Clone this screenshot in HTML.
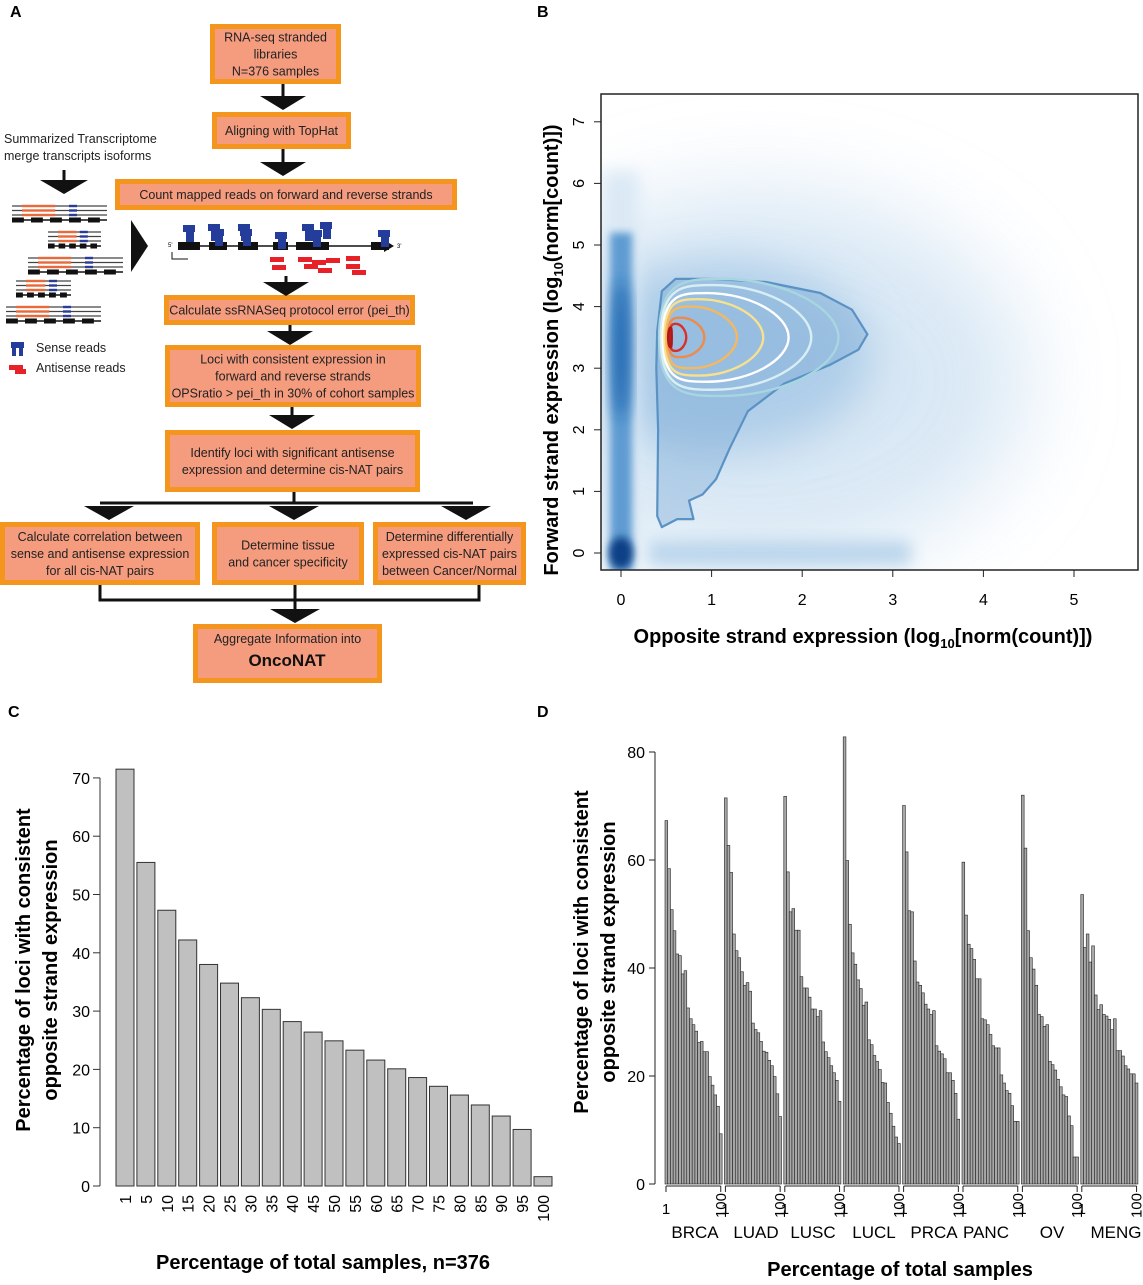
<!DOCTYPE html>
<html><head><meta charset="utf-8"><style>
html,body{margin:0;padding:0;background:#fff}
svg text{font-family:"Liberation Sans",sans-serif}
</style></head><body>
<svg id="fig" xmlns="http://www.w3.org/2000/svg" width="1143" height="1280" viewBox="0 0 1143 1280">
<defs>
<filter id="blur4" x="-50%" y="-50%" width="200%" height="200%"><feGaussianBlur stdDeviation="4"/></filter>
<filter id="blur8" x="-50%" y="-50%" width="200%" height="200%"><feGaussianBlur stdDeviation="8"/></filter>
<filter id="blur20" x="-50%" y="-50%" width="200%" height="200%"><feGaussianBlur stdDeviation="22"/></filter>
<filter id="blur40" x="-50%" y="-50%" width="200%" height="200%"><feGaussianBlur stdDeviation="45"/></filter>
<clipPath id="clipB"><rect x="601" y="94" width="537" height="476"/></clipPath>
</defs>
<g id="panelA"></g>
<g id="panelB"></g>
<g id="panelC"></g>
<g id="panelD"></g>
</svg>
<script>
// ---------- Panel C data ----------
const cCategories = ["1","5","10","15","20","25","30","35","40","45","50","55","60","65","70","75","80","85","90","95","100"];
const cValues = [71.5,55.5,47.3,42.2,38.0,34.8,32.3,30.3,28.2,26.4,24.9,23.3,21.6,20.1,18.6,17.1,15.6,13.9,12.0,9.7,1.6];
const cYTicks = [0,10,20,30,40,50,60,70];
// ---------- Panel D data ----------
const dGroups = ["BRCA","LUAD","LUSC","LUCL","PRCA","PANC","OV","MENG"];
const dBRCA = [67.3,58.4,50.8,46.9,42.6,42.3,38.9,39.5,32.6,30.6,29.5,28.3,26.2,26.4,24.5,24.5,19.9,18.3,16.5,14.4,9.3];
const dLUAD = [71.5,62.7,57.7,46.3,43.2,41.9,39.3,36.8,37.3,35.7,29.8,28.6,28.0,26.4,24.6,24.4,22.9,21.9,19.9,16.7,12.5];
const dLUSC = [71.8,57.8,50.4,51.0,47.0,47.0,38.4,36.3,36.3,34.6,32.4,32.4,31.0,32.1,26.3,24.5,23.4,21.9,20.6,19.2,15.3];
const dLUCL = [82.8,59.9,48.1,42.8,40.7,37.8,36.2,33.1,33.7,26.7,25.8,23.8,22.7,21.2,18.8,18.7,15.1,13.1,10.7,8.7,7.5];
const dPRCA = [70.1,61.5,50.6,50.4,41.3,37.4,36.8,35.4,33.3,32.4,31.4,32.1,25.6,24.6,24.1,23.2,20.6,20.6,19.2,16.8,12.0];
const dPANC = [59.6,49.8,44.4,43.6,41.6,38.0,38.0,30.6,30.4,29.5,27.7,25.6,25.2,25.2,20.2,18.7,17.3,16.8,14.5,11.6,11.6];
const dOV   = [72.0,62.2,46.9,41.9,39.8,36.8,31.4,31.0,29.2,29.5,22.7,22.1,21.1,19.4,18.0,16.5,16.2,12.6,10.8,5.0,5.0];
const dMENG = [53.6,43.8,46.3,41.1,44.1,35.0,32.3,33.2,31.4,31.1,30.5,28.6,30.6,24.7,24.7,23.7,21.9,21.3,20.4,20.4,18.7];
const dYTicks = [0,20,40,60,80];
// ---------- Panel B ----------
const bXTicks = [0,1,2,3,4,5];
const bYTicks = [0,1,2,3,4,5,6,7];
const bOuterX = [0.40,0.45,0.60,1.00,1.60,2.20,2.55,2.72,2.62,2.30,1.80,1.40,1.20,1.05,0.90,0.75,0.80,0.62,0.45,0.40,0.41,0.39];
const bOuterY = [3.60,4.25,4.45,4.45,4.40,4.22,3.95,3.55,3.30,3.05,2.75,2.30,1.70,1.20,0.95,0.85,0.55,0.55,0.42,0.60,2.00,3.00];
const bInnerRight = [2.40,2.10,1.85,1.57,1.28,0.92,0.72,0.52];
const bInnerHalf  = [0.95,0.85,0.72,0.62,0.50,0.32,0.22,0.16];
const bInnerColor = ["#a7d6e0","#d8eef3","#ffffff","#f7e08e","#f4b860","#ee8a4a","#d9302a","#b01818"];

const NS="http://www.w3.org/2000/svg";
function mk(parent,tag,attrs,text){const e=document.createElementNS(NS,tag);for(const k in attrs)e.setAttribute(k,attrs[k]);if(text!==undefined)e.textContent=text;parent.appendChild(e);return e;}

// ================= Panel A =================
(function(){
const g=document.getElementById('panelA');
const t=mk(g,'text',{x:10,y:17,'font-size':16,'font-weight':'bold'},'A');


const boxes=[
 [210,24,131,60,["RNA-seq stranded","libraries","N=376 samples"],'box-rnaseq'],
 [212,112,139,37,["Aligning with TopHat"],'box-align'],
 [115,179,342,31,["Count mapped reads on forward and reverse strands"],'box-count'],
 [164,295,251,30,["Calculate ssRNASeq protocol error (pei_th)"],'box-error'],
 [165,345,256,62,["Loci with consistent expression in","forward and reverse strands","OPSratio > pei_th in 30% of cohort samples"],'box-loci'],
 [165,430,255,62,["Identify loci with significant antisense","expression and determine cis-NAT pairs"],'box-identify'],
 [0,522,200,63,["Calculate correlation between","sense and antisense expression","for all cis-NAT pairs"],'box-correlation'],
 [212,522,152,63,["Determine tissue","and cancer specificity"],'box-specificity'],
 [373,522,153,63,["Determine differentially","expressed cis-NAT pairs","between Cancer/Normal"],'box-differential'],
 [193,624,189,59,["Aggregate Information into"],'box-aggregate']];
boxes.forEach(b=>{
 const r=mk(g,'rect',{x:b[0]+2.5,y:b[1]+2.5,width:b[2]-5,height:b[3]-5,fill:'#f59b7e',stroke:'#f4961e','stroke-width':5});
 
 
 const n=b[4].length, lh=17, cx=b[0]+b[2]/2;
 let y0=b[1]+b[3]/2-(n-1)*lh/2+4.5;
 if(b[5]==='box-aggregate') y0=b[1]+19;
 b[4].forEach((s,i)=>{const tt=mk(g,'text',{x:cx,y:y0+i*lh,'font-size':12.5,'text-anchor':'middle',fill:'#222'},s);
  
  });
});
const on=mk(g,'text',{x:287,y:666,'font-size':17,'font-weight':'bold','text-anchor':'middle',fill:'#111'},'OncoNAT');


function arrow(cx,y1,y2,w){mk(g,'line',{x1:cx,y1:y1,x2:cx,y2:y2-12,stroke:'#111','stroke-width':3});
 const p=mk(g,'polygon',{points:`${cx-w/2},${y2-14} ${cx+w/2},${y2-14} ${cx},${y2}`,fill:'#111'});
 
 }
arrow(283,84,110,46);arrow(283,149,176,46);arrow(286,276,296,46);arrow(290,325,345,46);arrow(292,407,429,46);
arrow(64,170,194,48);
mk(g,'polygon',{points:'131,220 148,246 131,272',fill:'#111'});
mk(g,'line',{x1:294,y1:492,x2:294,y2:503,stroke:'#111','stroke-width':3});
mk(g,'line',{x1:100,y1:503,x2:473,y2:503,stroke:'#111','stroke-width':3});
[[109,520],[294,520],[466,520]].forEach(a=>mk(g,'polygon',{points:`${a[0]-25},${a[1]-14} ${a[0]+25},${a[1]-14} ${a[0]},${a[1]}`,fill:'#111'}));
mk(g,'polyline',{points:'100,585 100,600 479,600 479,585',fill:'none',stroke:'#111','stroke-width':3});
mk(g,'line',{x1:295,y1:585,x2:295,y2:612,stroke:'#111','stroke-width':3});
mk(g,'polygon',{points:'270,609 320,609 295,623',fill:'#111'});
[["Summarized Transcriptome",143],["merge transcripts isoforms",160]].forEach(s=>{const tt=mk(g,'text',{x:4,y:s[1],'font-size':12.5,fill:'#222'},s[0]);
 
 });
const tr=[[12,95,220],[48,53,246],[28,95,272],[16,55,295],[6,95,321]];
tr.forEach(r=>{const x=r[0],w=r[1],y=r[2];
 for(let k=0;k<3;k++){mk(g,'line',{x1:x,y1:y-14+k*4.5,x2:x+w,y2:y-14+k*4.5,stroke:'#444','stroke-width':1.2});
  mk(g,'rect',{x:x+10,y:y-15.2+k*4.5,width:w*0.35,height:2.4,fill:'#e86a3c'});
  mk(g,'rect',{x:x+w*0.6,y:y-15.2+k*4.5,width:8,height:2.4,fill:'#2a3c9a'});}
 mk(g,'line',{x1:x,y1:y,x2:x+w,y2:y,stroke:'#111','stroke-width':1.5});
 for(let k=0;k<5;k++)mk(g,'rect',{x:x+k*w/5,y:y-2.5,width:w/8,height:5,fill:'#111'});
});
mk(g,'line',{x1:178,y1:246,x2:388,y2:246,stroke:'#111','stroke-width':1.5});
mk(g,'polygon',{points:'384,240 394,246 384,252',fill:'#111'});
[[178,22],[209,18],[238,20],[273,15],[296,33],[371,18]].forEach(e=>mk(g,'rect',{x:e[0],y:242,width:e[1],height:8,fill:'#111'}));
[[183,225],[208,224],[212,229],[238,224],[240,229],[275,232],[302,224],[310,230],[320,222],[378,230]].forEach(b=>{mk(g,'rect',{x:b[0],y:b[1],width:12,height:7,fill:'#243d9a'});mk(g,'rect',{x:b[0]+3,y:b[1]+7,width:8,height:10,fill:'#243d9a'});});
[[270,257],[272,265],[298,257],[304,264],[312,260],[318,268],[326,258],[346,256],[346,264],[352,270]].forEach(b=>mk(g,'rect',{x:b[0],y:b[1],width:14,height:5,fill:'#e82028'}));
mk(g,'polyline',{points:'172,252 172,259 188,259',fill:'none',stroke:'#111','stroke-width':1});
mk(g,'text',{x:168,y:247,'font-size':6},"5'");mk(g,'text',{x:397,y:248,'font-size':6},"3'");
mk(g,'rect',{x:11,y:342,width:13,height:6,fill:'#243d9a'});mk(g,'rect',{x:12,y:347,width:4,height:9,fill:'#243d9a'});mk(g,'rect',{x:19,y:347,width:4,height:9,fill:'#243d9a'});
mk(g,'rect',{x:9,y:365,width:14,height:5,fill:'#e82028'});mk(g,'rect',{x:15,y:369,width:11,height:5,fill:'#e82028'});
[["Sense reads",352],["Antisense reads",372]].forEach(s=>{const tt=mk(g,'text',{x:36,y:s[1],'font-size':12.5,fill:'#222'},s[0]);
 
 });
})();

// ================= Panel B =================
(function(){
const g=document.getElementById('panelB');
const x0=621,xs=90.6,y0=553,ys=61.6;
const X=v=>x0+v*xs, Y=v=>y0-v*ys;
mk(g,'text',{x:537,y:17,'font-size':16,'font-weight':'bold'},'B');
const c=mk(g,'g',{'clip-path':'url(#clipB)'});
mk(c,'rect',{x:601,y:94,width:537,height:476,fill:'#fff'});
mk(c,'ellipse',{cx:X(1.5),cy:Y(2.8),rx:270,ry:190,fill:'#cfe2f2',opacity:0.8,filter:'url(#blur40)'});
mk(c,'ellipse',{cx:X(1.1),cy:Y(3.2),rx:150,ry:95,fill:'#9dc3e4',opacity:0.7,filter:'url(#blur20)'});
mk(c,'rect',{x:X(0.3),y:Y(0.2),width:X(3.2)-X(0.3),height:25,fill:'#bcd6ec',filter:'url(#blur8)'});
mk(c,'rect',{x:X(-0.2),y:Y(6.2),width:36,height:Y(-0.3)-Y(6.2),fill:'#dbe9f5',filter:'url(#blur8)'});
mk(c,'rect',{x:X(-0.12),y:Y(5.2),width:22,height:Y(-0.3)-Y(5.2),fill:'#5e9bd2',filter:'url(#blur4)'});
mk(c,'ellipse',{cx:X(0),cy:Y(3.3),rx:8,ry:70,fill:'#1f65ae',filter:'url(#blur8)'});
mk(c,'ellipse',{cx:X(0),cy:Y(0),rx:12,ry:16,fill:'#0b3f86',filter:'url(#blur4)'});
// outer contour
let d='';
for(let k=0;k<bOuterX.length;k++) d+=(k?'L':'M')+X(bOuterX[k]).toFixed(1)+','+Y(bOuterY[k]).toFixed(1);
const po=mk(c,'path',{d:d+'Z',fill:'rgba(110,160,210,0.35)',stroke:'#5a92c4','stroke-width':2.2,'stroke-linejoin':'round'});


// inner contours
const ax=0.42, ay=3.5;
bInnerRight.forEach((xr,i)=>{
 const h=bInnerHalf[i];
 const L=X(ax+0.02*i), R=X(xr), T=Y(ay+h), B=Y(ay-h), M=Y(ay);
 const p=`M${L},${M} C${L},${T} ${L+(R-L)*0.15},${T} ${L+(R-L)*0.35},${T} C${L+(R-L)*0.7},${T} ${R},${M-(M-T)*0.5} ${R},${M} C${R},${M+(B-M)*0.5} ${L+(R-L)*0.7},${B} ${L+(R-L)*0.35},${B} C${L+(R-L)*0.15},${B} ${L},${B} ${L},${M}Z`;
 const e=mk(c,'path',{d:p,fill:i===7?'#c02020':'none',stroke:bInnerColor[i],'stroke-width':2.4});
 
 
});
const fr=mk(g,'rect',{x:601,y:94,width:537,height:476,fill:'none',stroke:'#222','stroke-width':1.5});


bXTicks.forEach(v=>{mk(g,'line',{x1:X(v),y1:570,x2:X(v),y2:577,stroke:'#222'});
 const t=mk(g,'text',{x:X(v),y:605,'font-size':16,'text-anchor':'middle'},String(v));
 
 });
bYTicks.forEach(v=>{mk(g,'line',{x1:594,y1:Y(v),x2:601,y2:Y(v),stroke:'#222'});
 const t=mk(g,'text',{x:0,y:0,'font-size':16,'text-anchor':'middle',transform:`translate(584,${Y(v)}) rotate(-90)`},String(v));
 
 });
const xt=mk(g,'text',{x:863,y:643,'font-size':20,'font-weight':'bold','text-anchor':'middle'});
xt.innerHTML='Opposite strand expression (log<tspan font-size="13" dy="5">10</tspan><tspan dy="-5">[norm(count)])</tspan>';


const yt=mk(g,'text',{x:0,y:0,'font-size':20,'font-weight':'bold','text-anchor':'middle',transform:'translate(558,350) rotate(-90)'});
yt.innerHTML='Forward strand  expression (log<tspan font-size="13" dy="5">10</tspan><tspan dy="-5">(norm[count)])</tspan>';


})();

// ================= Panel C =================
(function(){
const g=document.getElementById('panelC');
const y0=1186, ys=5.83, x0=116, pitch=20.9, bw=18;
const Y=v=>y0-v*ys;
mk(g,'text',{x:8,y:717,'font-size':16,'font-weight':'bold'},'C');
cValues.forEach((v,i)=>{const r=mk(g,'rect',{x:x0+i*pitch,y:Y(v),width:bw,height:v*ys,fill:'#c0c0c0',stroke:'#333','stroke-width':1});
 
 
 const t=mk(g,'text',{x:0,y:0,'font-size':16,'text-anchor':'end',transform:`translate(${x0+i*pitch+bw/2+6},${y0+9}) rotate(-90)`},cCategories[i]);
 
 });
mk(g,'line',{x1:100,y1:Y(0),x2:100,y2:Y(70),stroke:'#333','stroke-width':1});
cYTicks.forEach(v=>{mk(g,'line',{x1:93,y1:Y(v),x2:100,y2:Y(v),stroke:'#333'});
 const t=mk(g,'text',{x:90,y:Y(v)+6,'font-size':16,'text-anchor':'end'},String(v));
 
 });
const xt=mk(g,'text',{x:323,y:1269,'font-size':20,'font-weight':'bold','text-anchor':'middle'},'Percentage of total samples, n=376');


['Percentage of loci with consistent','opposite strand expression'].forEach((s,i)=>{const t=mk(g,'text',{x:0,y:0,'font-size':20,'font-weight':'bold','text-anchor':'middle',transform:`translate(${30+i*27},970) rotate(-90)`},s);
 
 });
})();

// ================= Panel D =================
(function(){
const g=document.getElementById('panelD');
const series=[dBRCA,dLUAD,dLUSC,dLUCL,dPRCA,dPANC,dOV,dMENG];
const y0=1184, ys=108/20, gx0=665, gpitch=59.4, bw=2.72;
const Y=v=>y0-v*ys;
mk(g,'text',{x:537,y:717,'font-size':16,'font-weight':'bold'},'D');
series.forEach((arr,gi)=>{const gs=gx0+gi*gpitch;
 arr.forEach((v,i)=>{const r=mk(g,'rect',{x:gs+i*bw,y:Y(v),width:bw,height:v*ys,fill:'#a8a8a8',stroke:'#222','stroke-width':0.6});
  
  });
 const ge=gs+(arr.length-1)*bw+bw/2;
 mk(g,'line',{x1:gs+1,y1:1186,x2:ge,y2:1186,stroke:'#222'});
 mk(g,'line',{x1:gs+1,y1:1186,x2:gs+1,y2:1192,stroke:'#222'});
 mk(g,'line',{x1:ge,y1:1186,x2:ge,y2:1192,stroke:'#222'});
 mk(g,'text',{x:gs+1,y:1214,'font-size':15,'text-anchor':'middle'},'1');
 mk(g,'text',{x:0,y:0,'font-size':15,'text-anchor':'end',transform:`translate(${ge+5},${1193}) rotate(-90)`},'100');
});
const lx=[695,756,813,874,934,986,1052,1116];
dGroups.forEach((n,i)=>{const t=mk(g,'text',{x:lx[i],y:1238,'font-size':17,'text-anchor':'middle'},n);
 
 });
mk(g,'line',{x1:655,y1:Y(0),x2:655,y2:Y(80),stroke:'#222'});
dYTicks.forEach(v=>{mk(g,'line',{x1:649,y1:Y(v),x2:655,y2:Y(v),stroke:'#222'});
 const t=mk(g,'text',{x:645,y:Y(v)+6,'font-size':16,'text-anchor':'end'},String(v));
 
 });
const xt=mk(g,'text',{x:900,y:1276,'font-size':20,'font-weight':'bold','text-anchor':'middle'},'Percentage of total  samples');


['Percentage of loci with consistent','opposite strand expression'].forEach((s,i)=>{const t=mk(g,'text',{x:0,y:0,'font-size':20,'font-weight':'bold','text-anchor':'middle',transform:`translate(${588+i*27},952) rotate(-90)`},s);
 
 });
})();
</script>
</body></html>
